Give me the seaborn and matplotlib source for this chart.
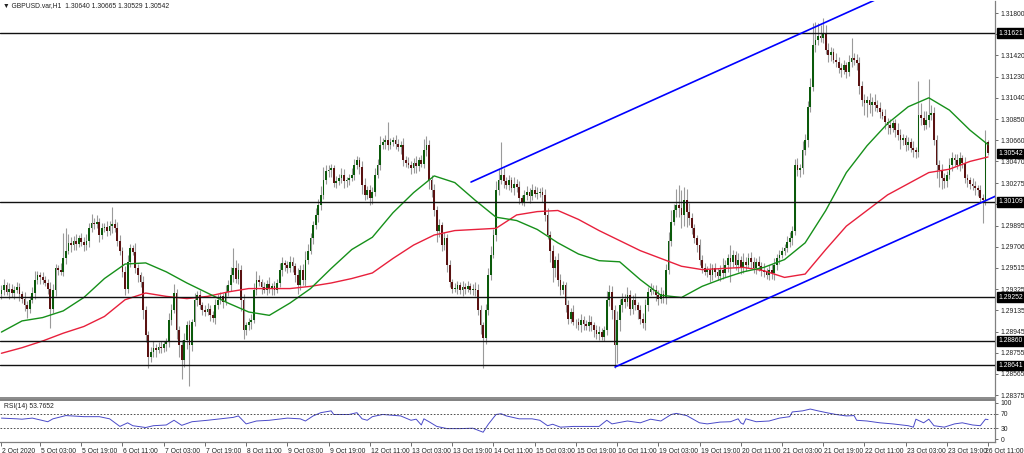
import matplotlib
matplotlib.use('Agg')
import matplotlib.pyplot as plt
import matplotlib.transforms as mtransforms
import numpy as np
import seaborn as sns

# GBPUSD H1 closes, 2 Oct 12:00 .. 26 Oct 11:00 (384 bars, 16 per row)
closes = [
    1.2932, 1.2936, 1.2930, 1.2933, 1.2929, 1.2932, 1.2934, 1.2928, 1.2924, 1.2918, 1.2915, 1.2923, 1.2929, 1.2941, 1.2945, 1.2943,
    1.2941, 1.2938, 1.2933, 1.2915, 1.2932, 1.2951, 1.2950, 1.2948, 1.2960, 1.2967, 1.2974, 1.2972, 1.2976, 1.2973, 1.2978, 1.2975,
    1.2972, 1.2976, 1.2987, 1.2992, 1.2991, 1.2993, 1.2981, 1.2987, 1.2988, 1.2985, 1.2989, 1.2991, 1.2987, 1.2976, 1.2967, 1.2948,
    1.2933, 1.2957, 1.2969, 1.2966, 1.2951, 1.2945, 1.2939, 1.2914, 1.2891, 1.2872, 1.2876, 1.2880, 1.2878, 1.2881, 1.2880, 1.2883,
    1.2885, 1.2905, 1.2914, 1.2929, 1.2896, 1.2882, 1.2869, 1.2887, 1.2900, 1.2882, 1.2903, 1.2923, 1.2927, 1.2918, 1.2914, 1.2912,
    1.2915, 1.2909, 1.2907, 1.2918, 1.2923, 1.2926, 1.2921, 1.2930, 1.2936, 1.2945, 1.2951, 1.2942, 1.2950, 1.2923, 1.2896, 1.2900,
    1.2903, 1.2905, 1.2932, 1.2941, 1.2939, 1.2934, 1.2932, 1.2937, 1.2933, 1.2935, 1.2932, 1.2938, 1.2950, 1.2956, 1.2954, 1.2951,
    1.2957, 1.2953, 1.2945, 1.2936, 1.2950, 1.2941, 1.2959, 1.2967, 1.2978, 1.2990, 1.2999, 1.3008, 1.3017, 1.3030, 1.3038, 1.3039,
    1.3041, 1.3028, 1.3029, 1.3032, 1.3035, 1.3029, 1.3030, 1.3032, 1.3035, 1.3044, 1.3048, 1.3042, 1.3026, 1.3017, 1.3021, 1.3014,
    1.3020, 1.3035, 1.3044, 1.3062, 1.3064, 1.3066, 1.3062, 1.3064, 1.3066, 1.3063, 1.3060, 1.3062, 1.3048, 1.3046, 1.3044, 1.3041,
    1.3046, 1.3043, 1.3048, 1.3045, 1.3057, 1.3062, 1.3030, 1.3021, 1.3003, 1.2985, 1.2990, 1.2972, 1.2978, 1.2954, 1.2939, 1.2933,
    1.2933, 1.2936, 1.2932, 1.2934, 1.2933, 1.2935, 1.2932, 1.2933, 1.2932, 1.2914, 1.2900, 1.2889, 1.2914, 1.2945, 1.2963, 1.2981,
    1.3021, 1.3030, 1.3035, 1.3029, 1.3026, 1.3030, 1.3023, 1.3027, 1.3024, 1.3014, 1.3011, 1.3017, 1.3020, 1.3016, 1.3021, 1.3018,
    1.3019, 1.3020, 1.3017, 1.2999, 1.2981, 1.2967, 1.2951, 1.2959, 1.2941, 1.2932, 1.2936, 1.2918, 1.2906, 1.2912, 1.2903, 1.2903,
    1.2900, 1.2905, 1.2901, 1.2899, 1.2903, 1.2900, 1.2896, 1.2892, 1.2894, 1.2890, 1.2896, 1.2923, 1.2930, 1.2914, 1.2882, 1.2905,
    1.2918, 1.2924, 1.2921, 1.2927, 1.2915, 1.2923, 1.2918, 1.2914, 1.2906, 1.2902, 1.2918, 1.2930, 1.2933, 1.2932, 1.2927, 1.2924,
    1.2928, 1.2925, 1.2950, 1.2976, 1.2993, 1.3003, 1.3008, 1.3005, 1.2999, 1.3012, 1.3002, 1.2996, 1.2987, 1.2978, 1.2972, 1.2959,
    1.2951, 1.2948, 1.2950, 1.2945, 1.2951, 1.2948, 1.2944, 1.2950, 1.2947, 1.2954, 1.2960, 1.2957, 1.2963, 1.2954, 1.2959, 1.2951,
    1.2957, 1.2954, 1.2960, 1.2957, 1.2951, 1.2957, 1.2953, 1.2950, 1.2948, 1.2945, 1.2950, 1.2947, 1.2954, 1.2960, 1.2963, 1.2967,
    1.2969, 1.2975, 1.2978, 1.2985, 1.3044, 1.3039, 1.3041, 1.3057, 1.3066, 1.3096, 1.3114, 1.3151, 1.3156, 1.3159, 1.3158, 1.3161,
    1.3147, 1.3142, 1.3145, 1.3138, 1.3136, 1.3131, 1.3129, 1.3133, 1.3127, 1.3136, 1.3140, 1.3138, 1.3135, 1.3115, 1.3102, 1.3099,
    1.3102, 1.3098, 1.3100, 1.3098, 1.3095, 1.3091, 1.3088, 1.3082, 1.3080, 1.3077, 1.3081, 1.3075, 1.3071, 1.3066, 1.3068, 1.3062,
    1.3064, 1.3059, 1.3057, 1.3055, 1.3089, 1.3086, 1.3080, 1.3084, 1.3089, 1.3090, 1.3066, 1.3044, 1.3039, 1.3032, 1.3029, 1.3035,
    1.3044, 1.3050, 1.3048, 1.3044, 1.3050, 1.3046, 1.3032, 1.3030, 1.3027, 1.3025, 1.3023, 1.3021, 1.3014, 1.3012, 1.3064, 1.30542,
]
first_open = 1.2928

# wick lengths above / below the body, in pips
upper_wick = [
    4, 6, 3, 5, 4, 3, 5, 4, 3, 6, 4, 3, 5, 8, 4, 3,
    5, 3, 4, 6, 5, 4, 3, 6, 23, 20, 8, 5, 4, 6, 3, 5,
    4, 6, 5, 8, 4, 6, 3, 5, 4, 6, 5, 15, 4, 6, 5, 3,
    5, 6, 4, 3, 8, 4, 3, 5, 3, 4, 5, 6, 3, 4, 5, 3,
    4, 6, 5, 8, 4, 3, 5, 6, 4, 5, 3, 6, 4, 5, 3, 4,
    5, 3, 4, 6, 5, 4, 3, 6, 5, 7, 18, 8, 6, 4, 5, 3,
    4, 5, 6, 8, 4, 3, 5, 4, 6, 3, 5, 4, 6, 5, 3, 4,
    5, 4, 3, 6, 4, 5, 8, 6, 5, 4, 6, 5, 8, 12, 6, 5,
    4, 3, 5, 4, 6, 5, 3, 4, 6, 5, 4, 3, 5, 6, 4, 5,
    4, 6, 5, 8, 4, 5, 16, 4, 3, 5, 4, 3, 6, 4, 5, 3,
    4, 6, 3, 5, 10, 8, 4, 5, 6, 4, 5, 3, 6, 4, 5, 3,
    5, 4, 3, 6, 4, 5, 3, 4, 6, 5, 4, 3, 5, 6, 8, 5,
    8, 10, 29, 6, 4, 5, 3, 6, 4, 5, 3, 4, 5, 3, 6, 4,
    5, 3, 4, 5, 6, 4, 5, 3, 6, 5, 4, 3, 5, 4, 6, 3,
    4, 5, 3, 4, 6, 5, 3, 4, 5, 4, 3, 8, 6, 5, 4, 8,
    6, 5, 4, 7, 5, 4, 6, 3, 4, 5, 6, 4, 5, 3, 4, 5,
    6, 4, 5, 8, 10, 6, 14, 18, 16, 12, 10, 8, 5, 4, 3, 5,
    4, 5, 3, 6, 4, 5, 3, 4, 10, 5, 4, 12, 5, 4, 6, 3,
    8, 4, 5, 6, 4, 3, 5, 4, 6, 3, 4, 5, 6, 4, 5, 3,
    4, 5, 6, 4, 5, 6, 4, 8, 6, 5, 8, 20, 16, 12, 10, 15,
    8, 6, 5, 4, 6, 5, 4, 5, 3, 6, 18, 4, 5, 6, 4, 5,
    4, 6, 5, 7, 4, 5, 3, 6, 4, 5, 3, 4, 6, 5, 4, 3,
    5, 4, 6, 3, 30, 10, 6, 8, 32, 8, 6, 5, 4, 6, 5, 3,
    6, 5, 4, 6, 5, 3, 5, 4, 3, 5, 4, 3, 5, 4, 11, 2.5,
]
lower_wick = [
    4, 5, 3, 6, 4, 5, 3, 6, 4, 5, 8, 4, 3, 5, 4, 6,
    4, 3, 5, 17, 4, 6, 5, 3, 4, 5, 3, 6, 4, 5, 3, 4,
    5, 4, 6, 3, 5, 4, 6, 4, 3, 5, 4, 6, 3, 5, 4, 5,
    6, 4, 5, 3, 4, 6, 5, 8, 6, 10, 5, 4, 6, 3, 5, 4,
    6, 4, 5, 3, 8, 10, 17, 6, 8, 36, 5, 4, 6, 3, 5, 4,
    3, 5, 4, 6, 3, 4, 5, 3, 4, 5, 6, 4, 5, 10, 8, 5,
    4, 6, 3, 5, 4, 6, 3, 5, 4, 6, 5, 3, 4, 6, 5, 4,
    3, 5, 6, 8, 4, 5, 6, 4, 3, 5, 4, 6, 5, 4, 3, 5,
    6, 4, 5, 3, 4, 6, 5, 4, 3, 5, 4, 6, 8, 5, 4, 6,
    5, 4, 3, 5, 4, 6, 5, 4, 3, 5, 4, 6, 5, 4, 3, 5,
    4, 6, 5, 3, 4, 5, 8, 6, 5, 10, 6, 5, 4, 6, 5, 4,
    3, 5, 4, 6, 5, 3, 4, 5, 6, 5, 8, 27, 6, 5, 4, 3,
    5, 4, 3, 6, 4, 5, 3, 6, 4, 5, 3, 4, 5, 6, 4, 3,
    5, 4, 6, 5, 4, 10, 12, 8, 6, 5, 4, 6, 5, 4, 3, 5,
    4, 6, 5, 3, 4, 5, 6, 4, 5, 3, 4, 5, 6, 8, 20, 16,
    10, 6, 5, 4, 6, 5, 4, 8, 5, 4, 6, 5, 3, 4, 5, 6,
    4, 5, 6, 4, 5, 3, 6, 8, 12, 10, 14, 6, 5, 4, 6, 5,
    4, 3, 5, 6, 4, 5, 3, 4, 5, 4, 6, 18, 5, 4, 6, 5,
    4, 5, 3, 6, 4, 5, 4, 6, 5, 3, 4, 5, 6, 4, 5, 3,
    4, 3, 5, 6, 4, 5, 6, 5, 4, 6, 5, 4, 6, 5, 4, 5,
    4, 6, 5, 3, 4, 5, 6, 4, 5, 3, 4, 5, 6, 8, 5, 10,
    12, 8, 10, 6, 4, 5, 3, 6, 8, 5, 4, 6, 5, 8, 4, 6,
    5, 4, 6, 5, 4, 6, 5, 4, 6, 5, 4, 12, 15, 10, 6, 5,
    4, 6, 5, 4, 6, 5, 4, 6, 5, 4, 6, 5, 4, 20, 4, 1.3,
]

# moving averages read every 8 bars
ma_bars = list(range(0, 384, 8)) + [383]
ma_fast = [1.2894, 1.2904, 1.2907, 1.2913, 1.2925, 1.2942, 1.2955, 1.2956, 1.2948, 1.2938,
           1.2929, 1.2920, 1.2912, 1.2909, 1.2920, 1.2933, 1.2951, 1.2968, 1.2979, 1.3001,
           1.3019, 1.3034, 1.3028, 1.3012, 1.2997, 1.2994, 1.2986, 1.2974, 1.2964, 1.2958,
           1.2957, 1.2941, 1.2927, 1.2925, 1.2935, 1.2942, 1.2948, 1.2952, 1.2959, 1.2974,
           1.3003, 1.3037, 1.3061, 1.3081, 1.3096, 1.3104, 1.3093, 1.3075, 1.3062]
ma_slow = [1.2875, 1.2880, 1.2886, 1.2893, 1.2899, 1.2908, 1.2923, 1.2929, 1.2926, 1.2924,
           1.2926, 1.2930, 1.2933, 1.2933, 1.2933, 1.2935, 1.2938, 1.2942, 1.2947, 1.2960,
           1.2972, 1.2981, 1.2985, 1.2986, 1.2987, 1.2999, 1.3002, 1.3003, 1.2995, 1.2985,
           1.2976, 1.2967, 1.2960, 1.2953, 1.2950, 1.2951, 1.2952, 1.2949, 1.2943, 1.2946,
           1.2968, 1.2989, 1.3003, 1.3017, 1.3027, 1.3037, 1.3040, 1.3047, 1.3051]

rsi_bars = [0, 6, 8, 12, 18, 20, 25, 32, 38, 42, 46, 49, 51, 56, 59, 64, 67, 70, 74, 80,
            85, 90, 92, 95, 99, 104, 111, 116, 118, 121, 124, 128, 129, 135, 138, 140, 142, 144, 148, 155,
            159, 161, 163, 164, 166, 169, 173, 178, 183, 187, 189, 192, 194, 196, 201, 206, 209, 212, 214, 217,
            222, 229, 232, 235, 237, 243, 248, 252, 256, 260, 262, 266, 271, 274, 279, 283, 286, 287, 288, 289,
            293, 298, 302, 306, 307, 311, 314, 317, 321, 324, 328, 331, 332, 336, 341, 346, 352, 354, 355, 358,
            360, 362, 366, 370, 373, 377, 380, 382, 383]
rsi_vals = [58, 56, 55, 58, 48, 56, 65, 62, 62, 56, 35, 45, 37, 32, 37, 39, 52, 38, 48, 52,
            56, 60, 64, 42, 50, 52, 58, 56, 50, 64, 73, 78, 68, 68, 73, 56, 52, 62, 68, 64,
            52, 55, 39, 56, 48, 35, 29, 29, 30, 19, 41, 68, 70, 64, 56, 56, 52, 37, 41, 33,
            35, 35, 35, 52, 42, 50, 45, 55, 50, 68, 71, 65, 45, 42, 47, 48, 56, 45, 41, 56,
            48, 50, 58, 62, 75, 78, 83, 78, 72, 68, 64, 65, 52, 50, 45, 42, 37, 33, 55, 45,
            55, 37, 33, 42, 45, 39, 37, 55, 53.77]

levels = [1.31621, 1.30109, 1.29252, 1.28860, 1.28641]
last_price = 1.30542
channel_top = [(182.3, 1.30285), (339.1, 1.31917)]
channel_bottom = [(238.2, 1.28627), (385.2, 1.30151)]

price_ticks = [1.31800, 1.31610, 1.31420, 1.31230, 1.31040, 1.30850, 1.30660, 1.30470, 1.30275, 1.30085,
               1.29895, 1.29706, 1.29515, 1.29325, 1.29135, 1.28945, 1.28755, 1.28565, 1.28375]
hidden_ticks = [1.31610, 1.30085]  # sit under the level boxes
date_labels = ['5 Oct 03:00', '5 Oct 19:00', '6 Oct 11:00', '7 Oct 03:00', '7 Oct 19:00', '8 Oct 11:00',
               '9 Oct 03:00', '9 Oct 19:00', '12 Oct 11:00', '13 Oct 03:00', '13 Oct 19:00', '14 Oct 11:00',
               '15 Oct 03:00', '15 Oct 19:00', '16 Oct 11:00', '19 Oct 03:00', '19 Oct 19:00', '20 Oct 11:00',
               '21 Oct 03:00', '21 Oct 19:00', '22 Oct 11:00', '23 Oct 03:00', '23 Oct 19:00', '26 Oct 11:00']
date_ticks = [15 + 16 * k for k in range(len(date_labels))]

sns.set_style('white')
plt.rcParams['font.family'] = ['Liberation Sans', 'DejaVu Sans']
FS = 4.9
XMIN, XMAX = -0.55, 385.7

fig = plt.figure(figsize=(10.24, 4.53), dpi=100)
ax = fig.add_axes([0, 55 / 453, 995 / 1024, 397 / 453])
ax_rsi = fig.add_axes([0, 11 / 453, 995 / 1024, 42 / 453])

# candles
c = np.array(closes)
o = np.concatenate([[first_open], c[:-1]])
hi = np.maximum(o, c) + np.array(upper_wick) * 1e-4
lo = np.minimum(o, c) - np.array(lower_wick) * 1e-4
idx = np.arange(len(c))
up = c >= o
ax.vlines(idx, lo, hi, color='#9a9a9a', lw=0.8, zorder=2)
ax.bar(idx[up], np.maximum((c - o)[up], 0.00003), bottom=o[up], width=0.68,
       color='#0b5a0b', lw=0, zorder=3)
ax.bar(idx[~up], (o - c)[~up], bottom=c[~up], width=0.68, color='#5a1212', lw=0, zorder=3)

# moving averages
sns.lineplot(x=ma_bars, y=ma_slow, ax=ax, color='#e8203c', lw=1.0, zorder=4)
sns.lineplot(x=ma_bars, y=ma_fast, ax=ax, color='#16901a', lw=1.0, zorder=4)

# support / resistance
for lv in levels:
    ax.axhline(lv, color='#111111', lw=1.0, zorder=5)

# channel rays
for p0, p1 in (channel_top, channel_bottom):
    slope = (p1[1] - p0[1]) / (p1[0] - p0[0])
    ax.plot([p0[0], 420], [p0[1], p0[1] + slope * (420 - p0[0])], color='#0000ff', lw=1.2, zorder=6)

ax.set_xlim(XMIN, XMAX)
ax.set_ylim(1.28349, 1.31908)
ax.set_xticks([])
ax.yaxis.tick_right()
ax.set_yticks(price_ticks)
ax.set_yticklabels(['' if t in hidden_ticks else '%.5f' % t for t in price_ticks])
ax.tick_params(axis='y', length=2.5, width=0.6, color='#555555', pad=1.5, labelsize=FS, labelcolor='#222222')
ax.set_xlabel('')
ax.set_ylabel('')
for s in ['left', 'top']:
    ax.spines[s].set_visible(False)
ax.spines['right'].set_color('#808080')
ax.spines['right'].set_linewidth(0.9)
ax.spines['bottom'].set_color('#8a8a8a')
ax.spines['bottom'].set_linewidth(1.4)

trans = mtransforms.blended_transform_factory(ax.transAxes, ax.transData)
for lv in levels + [last_price]:
    ax.text(1.0035, lv, '%.5f' % lv, transform=trans, ha='left', va='center', fontsize=FS,
            color='white', clip_on=False, zorder=10,
            bbox=dict(boxstyle='square,pad=0.2', facecolor='black', edgecolor='black'))

fig.text(0.003, 0.995, '\u25bc GBPUSD.var,H1  1.30640 1.30665 1.30529 1.30542', ha='left', va='top',
         fontsize=FS, color='#222222')

# RSI panel
sns.lineplot(x=rsi_bars, y=rsi_vals, ax=ax_rsi, color='#4a4ac8', lw=0.7)
for lv in (70, 30):
    ax_rsi.axhline(lv, color='#333333', lw=0.6, ls=(0, (2, 2)))
ax_rsi.set_xlim(XMIN, XMAX)
ax_rsi.set_ylim(-8, 108)
ax_rsi.yaxis.tick_right()
ax_rsi.set_yticks([100, 70, 30, 0])
ax_rsi.set_yticklabels(['100', '70', '30', '0'])
ax_rsi.tick_params(axis='y', length=2.5, width=0.6, color='#555555', pad=1.5, labelsize=FS, labelcolor='#222222')
ax_rsi.set_xticks([XMIN + 0.2] + date_ticks)
ax_rsi.set_xticklabels(['2 Oct 2020'] + date_labels)
ax_rsi.tick_params(axis='x', length=3, width=0.6, color='#555555', pad=1, labelsize=FS, labelcolor='#222222',
                   bottom=True)
xlabels = ax_rsi.get_xticklabels()
for i, lbl in enumerate(xlabels):
    lbl.set_ha('left')
    dx = 1 if i < len(xlabels) - 1 else -3
    lbl.set_transform(lbl.get_transform() + mtransforms.ScaledTranslation(dx / 100, 0, fig.dpi_scale_trans))
ax_rsi.set_xlabel('')
ax_rsi.set_ylabel('')
ax_rsi.spines['left'].set_visible(False)
for s in ['top', 'right', 'bottom']:
    ax_rsi.spines[s].set_color('#808080')
ax_rsi.spines['top'].set_linewidth(1.4)
ax_rsi.spines['right'].set_linewidth(0.9)
ax_rsi.spines['bottom'].set_linewidth(0.9)
ax_rsi.text(0.004, 0.93, 'RSI(14) 53.7652', transform=ax_rsi.transAxes, ha='left', va='top',
            fontsize=FS, color='#222222')

fig.savefig('out.png', dpi=100, facecolor='white')
